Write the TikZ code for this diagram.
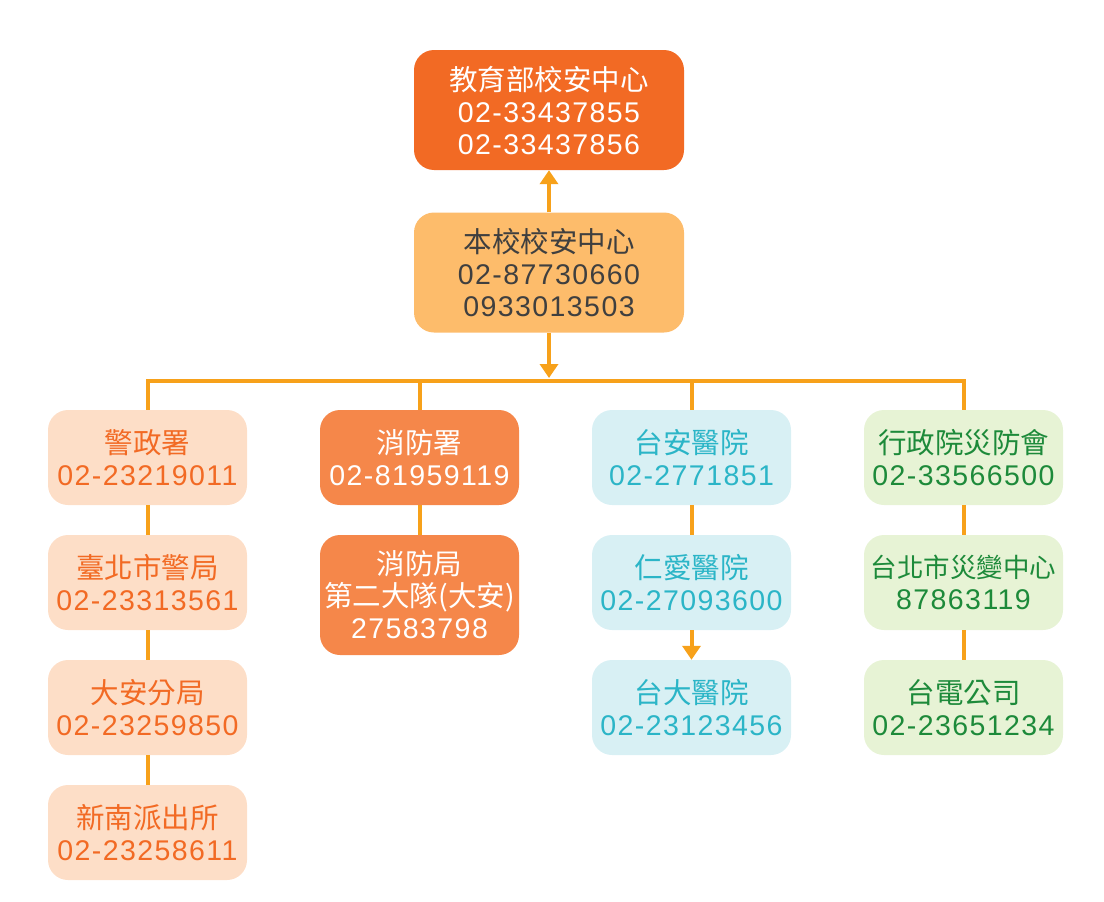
\documentclass[tikz,border=0pt]{standalone}
\usepackage{fontspec}
\setmainfont[LetterSpace=5]{Liberation Sans}
\newfontfamily\cjkfont{Noto Sans CJK TC}
\newcommand{\zh}[1]{{\cjkfont #1}}
\usetikzlibrary{arrows.meta}
\definecolor{topfill}{HTML}{F26A24}
\definecolor{schfill}{HTML}{FDBC6B}
\definecolor{schtext}{HTML}{3F3F3F}
\definecolor{polfill}{HTML}{FDDEC7}
\definecolor{poltext}{HTML}{F26A24}
\definecolor{firefill}{HTML}{F5874A}
\definecolor{hospfill}{HTML}{D8F0F4}
\definecolor{hosptext}{HTML}{2BB5C7}
\definecolor{disfill}{HTML}{E7F3D5}
\definecolor{distext}{HTML}{1D8A3A}
\definecolor{linecol}{HTML}{F7A11A}
\tikzset{
  box/.style={rounded corners=20pt, inner sep=0pt, align=center,
    font=\fontsize{28.5}{32}\selectfont},
  bigbox/.style={box, minimum width=270pt, minimum height=120pt},
  colbox/.style={box, minimum width=199pt, minimum height=95pt},
  tallbox/.style={box, minimum width=199pt, minimum height=120pt},
  topbox/.style={fill=topfill, text=white},
  schbox/.style={fill=schfill, text=schtext},
  polbox/.style={fill=polfill, text=poltext},
  firebox/.style={fill=firefill, text=white},
  hospbox/.style={fill=hospfill, text=hosptext},
  disbox/.style={fill=disfill, text=distext},
  conn/.style={draw=linecol, line width=4pt},
  tip/.style={-{Triangle[width=18pt,length=14pt]}},
}
\begin{document}
\begin{tikzpicture}[x=1pt,y=-1pt]
\useasboundingbox (0,0) rectangle (1104,902);
% top
\node[bigbox,topbox] (moe) at (549,110) {\zh{教育部校安中心}\\02-33437855\\02-33437856};
\node[bigbox,schbox] (sch) at (549,272.5) {\zh{本校校安中心}\\02-87730660\\0933013503};
% column 1
\node[colbox,polbox] (p1) at (147.5,457.5) {\zh{警政署}\\02-23219011};
\node[colbox,polbox] (p2) at (147.5,582.5) {\zh{臺北市警局}\\02-23313561};
\node[colbox,polbox] (p3) at (147.5,707.5) {\zh{大安分局}\\02-23259850};
\node[colbox,polbox] (p4) at (147.5,832.5) {\zh{新南派出所}\\02-23258611};
% column 2
\node[colbox,firebox] (f1) at (419.5,457.5) {\zh{消防署}\\02-81959119};
\node[tallbox,firebox] (f2) at (419.5,595) {\zh{消防局}\\\zh{第二大隊(大安)}\\27583798};
% column 3
\node[colbox,hospbox] (h1) at (691.5,457.5) {\zh{台安醫院}\\02-2771851};
\node[colbox,hospbox] (h2) at (691.5,582.5) {\zh{仁愛醫院}\\02-27093600};
\node[colbox,hospbox] (h3) at (691.5,707.5) {\zh{台大醫院}\\02-23123456};
% column 4
\node[colbox,disbox] (d1) at (963.5,457.5) {\zh{行政院災防會}\\02-33566500};
\node[colbox,disbox] (d2) at (963.5,582.5) {{\fontsize{26.5}{32}\selectfont\zh{台北市災變中心}}\\87863119};
\node[colbox,disbox] (d3) at (963.5,707.5) {\zh{台電公司}\\02-23651234};
% connectors
\coordinate (bus) at (549,381);
\coordinate (busend) at (549,378);
\draw[conn,tip] (sch.north) -- (moe.south);
\draw[conn,tip] (sch.south) -- (busend);
\draw[conn,line join=miter] (p1.north) -- (p1.north |- bus) -- (d1.north |- bus) -- (d1.north);
\draw[conn] (f1.north) -- (f1.north |- bus);
\draw[conn] (h1.north) -- (h1.north |- bus);
\draw[conn] (p1.south) -- (p2.north);
\draw[conn] (p2.south) -- (p3.north);
\draw[conn] (p3.south) -- (p4.north);
\draw[conn] (f1.south) -- (f2.north);
\draw[conn] (h1.south) -- (h2.north);
\draw[conn,tip] (h2.south) -- (h3.north);
\draw[conn] (d1.south) -- (d2.north);
\draw[conn] (d2.south) -- (d3.north);
\end{tikzpicture}
\end{document}
